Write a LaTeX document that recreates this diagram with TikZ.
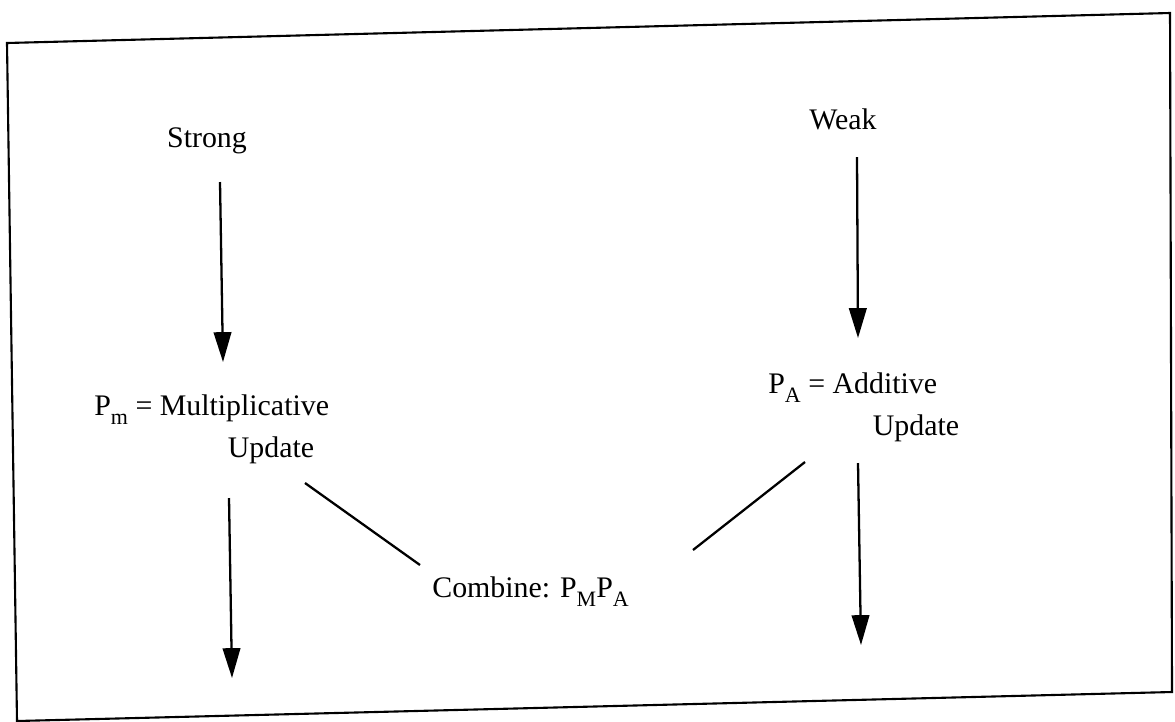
\documentclass[tikz,border=0pt]{standalone}
\usepackage{fontspec}
\setmainfont{Liberation Serif}
\usetikzlibrary{arrows.meta}
\newcommand{\lsub}[1]{\raisebox{-5.5pt}{\fontsize{12.5pt}{13pt}\selectfont #1}}

\begin{document}
\begin{tikzpicture}[x=0.02cm,y=-0.02cm,
  lbl/.style={inner sep=0pt,font=\fontsize{17pt}{24pt}\selectfont},
  arr/.style={line width=1.3pt,-{Triangle[length=17pt,width=10pt]}},
  link/.style={line width=1.3pt}]
\useasboundingbox (0,0) rectangle (1175,721);
% frame, a bit skewed like the scan
\draw[line width=1.2pt] (7,43) -- (1170,13) -- (1172,692) -- (17,721) -- cycle;

\node[lbl,anchor=base] (strong) at (207,147) {Strong};
\node[lbl,anchor=base] (weak) at (843,129) {Weak};
\node[lbl,anchor=north west,align=left] (mult) at (94,394) {P\lsub{m} = Multiplicative\\\hspace*{76pt}Update};
\node[lbl,anchor=north west,align=left] (add) at (768,372) {P\lsub{A} = Additive\\\hspace*{59.5pt}Update};
\node[lbl,anchor=base west] (comb) at (432,597) {Combine: P\lsub{M}P\lsub{A}};

\coordinate (s1) at (220,182);
\coordinate (s2) at (223,362);
\coordinate (m1) at (229,498);
\coordinate (m2) at (232,678);
\coordinate (w1) at (857,157);
\coordinate (w2) at (858,338);
\coordinate (a1) at (858,463);
\coordinate (a2) at (861,645);
\coordinate (ml) at (305,483);
\coordinate (mr) at (420,565);
\coordinate (al) at (693,550);
\coordinate (ar) at (805,462);

\draw[arr] (s1) -- (s2);
\draw[arr] (m1) -- (m2);
\draw[arr] (w1) -- (w2);
\draw[arr] (a1) -- (a2);
\draw[link] (ml) -- (mr);
\draw[link] (al) -- (ar);
\end{tikzpicture}
\end{document}
